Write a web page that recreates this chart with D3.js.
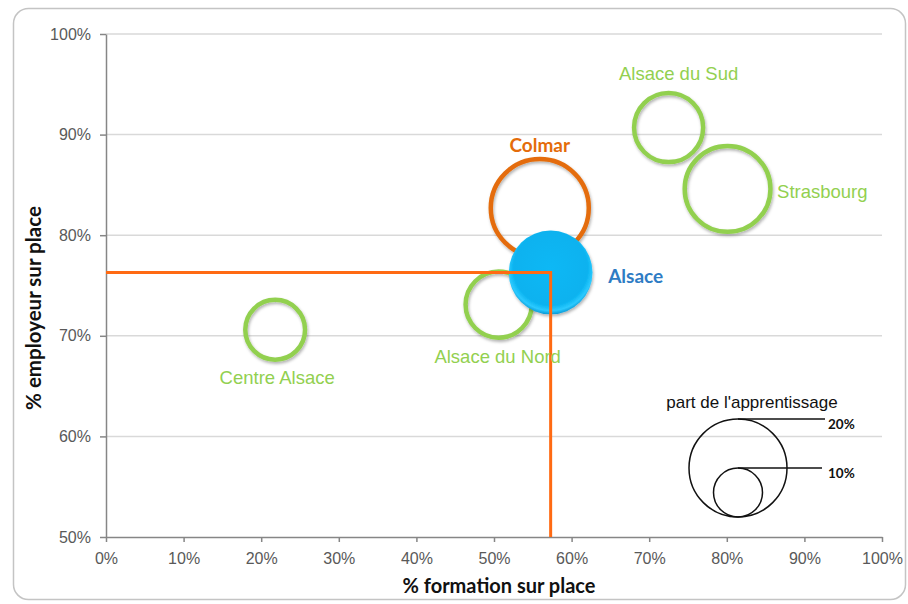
<!DOCTYPE html>
<html>
<head>
<meta charset="utf-8">
<script src="https://cdn.jsdelivr.net/npm/d3@7"></script>
<style>
  body { margin: 0; background: #fff; }
  svg { display: block; }
  .tick text { font-family: "Liberation Sans", Arial, sans-serif; font-size: 16px; fill: #595959; }
</style>
</head>
<body>
<svg id="chart" width="908" height="604"></svg>
<script>
// data
const zones = ['Centre Alsace', 'Alsace du Nord', 'Colmar', 'Alsace', 'Alsace du Sud', 'Strasbourg'];
const formation = [0.218, 0.506, 0.559, 0.573, 0.725, 0.801];   // % formation sur place
const employeur = [0.706, 0.731, 0.827, 0.763, 0.907, 0.846];   // % employeur sur place
const apprentissage = [0.122, 0.135, 0.200, 0.171, 0.141, 0.175]; // part de l'apprentissage
const xTicks = [0, 0.1, 0.2, 0.3, 0.4, 0.5, 0.6, 0.7, 0.8, 0.9, 1];
const yTicks = [0.5, 0.6, 0.7, 0.8, 0.9, 1];
const legendValues = [0.2, 0.1];
const refZone = 'Alsace';

// label placement / style per zone (layout only)
const zoneStyle = {
  'Centre Alsace':  { kind: 'ring', color: '#92d050', dx: 2,    dy: 54,    anchor: 'middle', bold: false },
  'Alsace du Nord': { kind: 'ring', color: '#92d050', dx: -1,   dy: 58.5,  anchor: 'middle', bold: false },
  'Colmar':         { kind: 'ring', color: '#e46c0a', dx: 0,    dy: -56.5, anchor: 'middle', bold: true },
  'Alsace':         { kind: 'fill', color: '#2e7cc4', dx: 57.5, dy: 10.5,  anchor: 'start',  bold: true },
  'Alsace du Sud':  { kind: 'ring', color: '#92d050', dx: 10,   dy: -47.5, anchor: 'middle', bold: false },
  'Strasbourg':     { kind: 'ring', color: '#92d050', dx: 49.5, dy: 9,     anchor: 'start',  bold: false }
};

const svg = d3.select('#chart');
const W = 908, H = 604;
const M = { left: 106, right: 26, top: 34, bottom: 67 };

const x = d3.scaleLinear().domain([0, 1]).range([M.left, W - M.right]);
const y = d3.scaleLinear().domain([0.5, 1]).range([H - M.bottom, M.top]);
const r = d3.scaleLinear().domain([0, 0.2]).range([0, 49]);

const data = zones.map((z, i) => ({ zone: z, fx: formation[i], fy: employeur[i], a: apprentissage[i] }));

// frame
svg.append('rect')
  .attr('x', 13.5).attr('y', 8.5).attr('width', 892).attr('height', 591)
  .attr('rx', 15)
  .attr('fill', '#fff').attr('stroke', '#c4c4c4').attr('stroke-width', 1.5);

const defs = svg.append('defs');
const shadow = defs.append('filter').attr('id', 'shadow')
  .attr('x', '-20%').attr('y', '-20%').attr('width', '150%').attr('height', '150%');
shadow.append('feDropShadow')
  .attr('dx', 1).attr('dy', 2).attr('stdDeviation', 1.5)
  .attr('flood-color', '#000').attr('flood-opacity', 0.3);

const grad = defs.append('radialGradient').attr('id', 'blueBall')
  .attr('cx', '50%').attr('cy', '45%').attr('r', '55%');
grad.append('stop').attr('offset', '0%').attr('stop-color', '#0cb8f5');
grad.append('stop').attr('offset', '80%').attr('stop-color', '#08b2ef');
grad.append('stop').attr('offset', '92%').attr('stop-color', '#2ccaff');
grad.append('stop').attr('offset', '100%').attr('stop-color', '#0a9ad6');

// gridlines
svg.append('g').attr('id', 'grid')
  .selectAll('line')
  .data(yTicks.filter(d => d > 0.5))
  .join('line')
  .attr('x1', x(0)).attr('x2', x(1))
  .attr('y1', d => y(d)).attr('y2', d => y(d))
  .attr('stroke', '#d9d9d9').attr('stroke-width', 1.5);

// axes
const xAxis = svg.append('g')
  .attr('transform', `translate(0, ${y(0.5)})`)
  .call(d3.axisBottom(x).tickValues(xTicks).tickFormat(d3.format('.0%')).tickSize(5).tickSizeOuter(0).tickPadding(11));
const yAxis = svg.append('g')
  .attr('transform', `translate(${x(0)}, 0)`)
  .call(d3.axisLeft(y).tickValues(yTicks).tickFormat(d3.format('.0%')).tickSize(6).tickSizeOuter(0).tickPadding(9));
[xAxis, yAxis].forEach(a => {
  a.select('.domain').attr('stroke', '#868686').attr('stroke-width', 1.5);
  a.selectAll('.tick line').attr('stroke', '#868686').attr('stroke-width', 1.5);
});

// axis titles
svg.append('text')
  .text('% formation sur place')
  .attr('x', 499)
  .attr('y', 593)
  .attr('text-anchor', 'middle')
  .attr('font-family', 'Lato, "Open Sans", sans-serif')
  .attr('font-weight', 'bold').attr('font-size', 20).attr('fill', '#111');

svg.append('text')
  .text('% employeur sur place')
  .attr('transform', 'translate(41, 308) rotate(-90)')
  .attr('text-anchor', 'middle')
  .attr('font-family', 'Lato, "Open Sans", sans-serif')
  .attr('font-weight', 'bold').attr('font-size', 20.5).attr('fill', '#111');

// bubbles
const bubbles = svg.append('g').attr('id', 'bubbles');
bubbles.selectAll('circle')
  .data(data)
  .join('circle')
  .attr('cx', d => x(d.fx))
  .attr('cy', d => y(d.fy))
  .attr('r', d => r(d.a))
  .attr('fill', d => zoneStyle[d.zone].kind === 'fill' ? 'url(#blueBall)' : 'none')
  .attr('stroke', d => zoneStyle[d.zone].kind === 'fill' ? 'none' : zoneStyle[d.zone].color)
  .attr('stroke-width', 4.5)
  .attr('filter', 'url(#shadow)');

// reference lines through Alsace
const ref = data.find(d => d.zone === refZone);
const refLines = svg.append('g').attr('id', 'ref-lines');
refLines.append('path')
  .attr('d', `M${x(0)},${y(ref.fy)} H${x(ref.fx)} V${y(0.5)}`)
  .attr('fill', 'none')
  .attr('stroke', '#ff6a13')
  .attr('stroke-width', 3);

// labels
svg.append('g').attr('id', 'labels')
  .selectAll('text')
  .data(data)
  .join('text')
  .text(d => d.zone)
  .attr('x', d => x(d.fx) + zoneStyle[d.zone].dx)
  .attr('y', d => y(d.fy) + zoneStyle[d.zone].dy)
  .attr('text-anchor', d => zoneStyle[d.zone].anchor)
  .attr('font-family', d => zoneStyle[d.zone].bold ? 'Lato, "Open Sans", sans-serif' : '"Liberation Sans", Arial, sans-serif')
  .attr('font-weight', d => zoneStyle[d.zone].bold ? 'bold' : 'normal')
  .attr('font-size', d => zoneStyle[d.zone].bold ? 19 : 18.5)
  .attr('fill', d => zoneStyle[d.zone].color);

// size legend
const legend = svg.append('g').attr('id', 'legend');
const lgX = 738, lgBottom = 517;
legend.append('text')
  .text("part de l'apprentissage")
  .attr('x', 752).attr('y', 408)
  .attr('text-anchor', 'middle')
  .attr('font-family', '"Liberation Sans", Arial, sans-serif')
  .attr('font-size', 17).attr('fill', '#111');

legend.selectAll('circle')
  .data(legendValues)
  .join('circle')
  .attr('cx', lgX)
  .attr('cy', d => lgBottom - r(d))
  .attr('r', d => r(d))
  .attr('fill', 'none').attr('stroke', '#111').attr('stroke-width', 1.5);

legend.selectAll('line')
  .data(legendValues)
  .join('line')
  .attr('x1', lgX)
  .attr('x2', (d, i) => i === 0 ? 825 : 822)
  .attr('y1', d => lgBottom - 2 * r(d))
  .attr('y2', d => lgBottom - 2 * r(d))
  .attr('stroke', '#111').attr('stroke-width', 1.5);

legend.selectAll('text.val')
  .data(legendValues)
  .join('text')
  .attr('class', 'val')
  .text(d3.format('.0%'))
  .attr('x', 828)
  .attr('y', d => lgBottom - 2 * r(d) + 10)
  .attr('font-family', 'Lato, "Open Sans", sans-serif')
  .attr('font-weight', 'bold').attr('font-size', 13.5).attr('fill', '#111');
</script>
</body>
</html>
